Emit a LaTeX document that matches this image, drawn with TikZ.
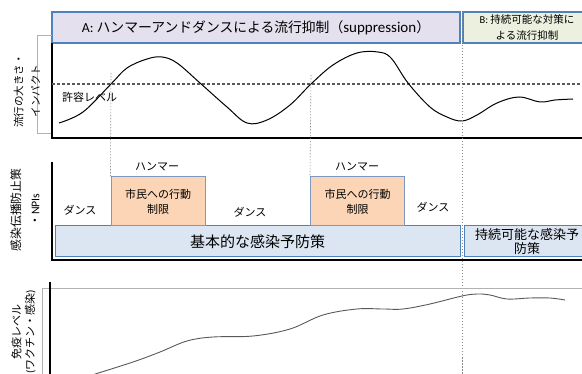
\documentclass[tikz,border=0pt]{standalone}
\usepackage{fontspec}
\setmainfont{Noto Sans CJK JP}
\newfontfamily\latn{Carlito}
\newlength{\du}
\setlength{\du}{1pt}
\definecolor{titleafill}{rgb}{0.898,0.878,0.929}
\definecolor{titlebfill}{rgb}{0.922,0.945,0.871}
\definecolor{hammerfill}{rgb}{0.984,0.835,0.710}
\definecolor{basefill}{rgb}{0.863,0.902,0.949}
\definecolor{boxline}{rgb}{0.310,0.506,0.741}
\definecolor{hammerline}{rgb}{0.490,0.600,0.760}
\tikzset{
  axisline/.style={black, line width=1.5\du},
  guideline/.style={black!45, line width=0.6\du, dash pattern=on 1.5\du off 1.5\du},
  levelline/.style={black!65, line width=1.3\du, dash pattern=on 3\du off 2\du},
  labelframe/.style={black!30, line width=0.8\du},
  curveline/.style={black, line width=1\du},
  titlebox/.style={draw=boxline, line width=1.2\du, inner sep=0pt, align=center},
  hammerbox/.style={draw=hammerline, fill=hammerfill, line width=1\du, inner sep=0pt, align=center,
    minimum width=94\du, minimum height=49\du, font=\fontsize{11}{15}\selectfont},
  basebox/.style={draw=boxline, fill=basefill, line width=1\du, inner sep=0pt, align=center,
    minimum height=31\du},
  phase/.style={font=\fontsize{11}{13}\selectfont, inner sep=0pt},
  ylab/.style={rotate=90, align=center, inner sep=0pt},
}

\begin{document}
\begin{tikzpicture}
\pgftransformxscale{1.000000}
\pgftransformyscale{-1.000000}
\useasboundingbox (0\du,0\du) rectangle (582\du,374\du);
% titles
\node[titlebox, fill=titleafill, minimum width=408\du, minimum height=31\du,
  font=\fontsize{13.8}{15}\selectfont] (titleA) at (256\du,27.5\du)
  {{\latn A:} ハンマーアンドダンスによる流行抑制（{\latn\fontsize{15}{15}\selectfont suppression}）};
\node[titlebox, fill=titlebfill, minimum width=128\du, minimum height=31\du,
  font=\fontsize{10.5}{16}\selectfont] (titleB) at (527\du,27.5\du)
  {{\latn B:} 持続可能な対策に\\よる流行抑制};
% top panel
\coordinate (flowtop) at (52\du,43\du);
\coordinate (floworig) at (52\du,138\du);
\coordinate (flowend) at (582\du,138\du);
\draw[labelframe] (52\du,35\du) -- (37\du,35\du) -- (37\du,133\du) -- (52\du,133\du);
\node[ylab, font=\fontsize{10.5}{17}\selectfont] (flowlab) at (27\du,91\du) {流行の大きさ・\\インパクト};
\draw[axisline] (flowtop) -- (floworig) -- (flowend);
\coordinate (lvlstart) at (52\du,84\du);
\coordinate (lvlend) at (582\du,84\du);
\draw[levelline] (lvlstart) -- (lvlend);
\node[phase, anchor=west] (lvllab) at (62\du,97\du) {許容レベル};
\draw[curveline] plot[smooth, tension=0.6] coordinates {
  (59\du,123\du) (83\du,112\du) (111\du,84\du) (127\du,68\du) (147\du,59\du) (162\du,57\du)
  (177\du,63\du) (200\du,83\du) (227\du,107\du) (247\du,123\du) (267\du,120\du) (290\du,105\du)
  (311\du,84\du) (333\du,65\du) (357\du,53\du) (378\du,52\du) (391\du,58\du) (408\du,83\du)
  (430\du,107\du) (447\du,117\du) (462\du,121\du) (477\du,115\du) (497\du,103\du) (519\du,97\du)
  (540\du,102\du) (555\du,100\du) (573\du,99\du)};
% middle panel
\coordinate (npitop) at (52\du,162\du);
\coordinate (npiorig) at (52\du,260\du);
\coordinate (npiend) at (582\du,260\du);
\draw[axisline] (npitop) -- (npiorig) -- (npiend);
\node[ylab, font=\fontsize{11.8}{19}\selectfont] (npilab) at (25\du,210\du) {感染伝播防止策\\・{\latn NPIs}};
\node[basebox, minimum width=405\du, font=\fontsize{15}{17}\selectfont] (basic) at (257.5\du,241.5\du) {基本的な感染予防策};
\node[basebox, minimum width=126\du, font=\fontsize{13}{14}\selectfont] (sustain) at (527\du,241.5\du) {持続可能な感染予\\防策};
\node[hammerbox] (hammer1) at (158\du,201.5\du) {市民への行動\\制限};
\node[hammerbox] (hammer2) at (357.5\du,201.5\du) {市民への行動\\制限};
\node[phase] (hamlab1) at (157\du,167\du) {ハンマー};
\node[phase] (hamlab2) at (357\du,167\du) {ハンマー};
\node[phase] (dance1) at (80\du,210\du) {ダンス};
\node[phase] (dance2) at (250\du,212\du) {ダンス};
\node[phase] (dance3) at (433\du,207\du) {ダンス};
% guides
\coordinate (guide1) at (111\du,73\du);
\coordinate (guide2) at (311\du,75\du);
\coordinate (guideBtop) at (462\du,12\du);
\coordinate (guideBbot) at (462\du,374\du);
\draw[guideline] (guide1) -- (hammer1.north west);
\draw[guideline] (guide2) -- (hammer2.north west);
\draw[guideline] (guideBtop) -- (guideBbot);
% bottom panel
\draw[labelframe] (582\du,288\du) -- (42\du,288\du) -- (42\du,374\du);
\coordinate (immtop) at (50\du,282\du);
\coordinate (immorig) at (50\du,374\du);
\draw[axisline] (immtop) -- (immorig);
\node[ylab, font=\fontsize{11}{13.5}\selectfont] (immlab) at (23.5\du,332\du)
  {免疫レベル\\{\latn (}ワクチン・感染{\latn )}};
\draw[black!65, line width=0.9\du] plot[smooth, tension=0.6] coordinates {
  (92\du,375\du) (133\du,362\du) (160\du,352\du) (187\du,341\du) (213\du,337\du) (253\du,336\du)
  (290\du,329\du) (323\du,315\du) (357\du,309\du) (383\du,309\du) (403\du,309\du) (430\du,304\du)
  (462\du,296\du) (477\du,294\du) (490\du,295\du) (507\du,299\du) (530\du,298\du) (550\du,298\du)
  (565\du,300\du)};
\end{tikzpicture}
\end{document}
